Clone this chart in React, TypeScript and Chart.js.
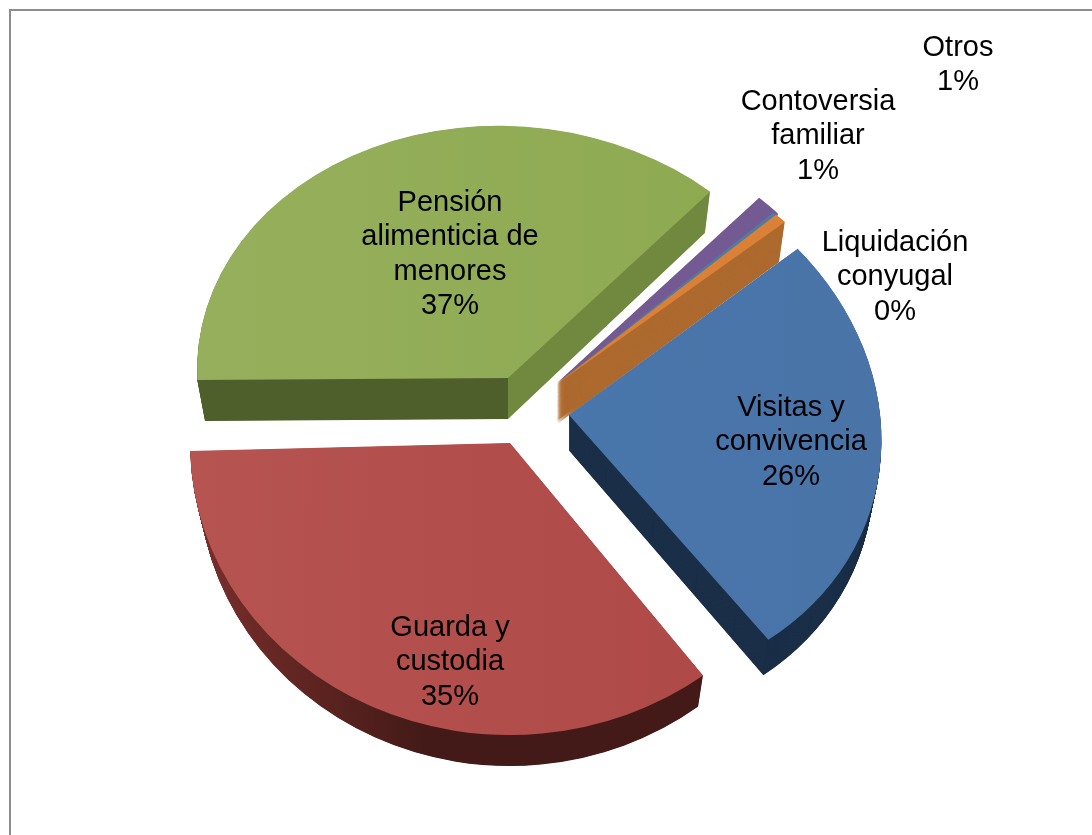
import React, { useEffect, useRef } from "react";
import { Chart, registerables } from "chart.js";

Chart.register(...registerables);

const categories = ["Visitas y convivencia", "Guarda y custodia", "Pensión alimenticia de menores", "Contoversia familiar", "Liquidación conyugal", "Otros"];
const values = [26, 35, 37, 1, 0.3, 1];
const topColors = ["#4a76ab", "#b04d4b", "#8fac55", "#745a93", "#4a7ea8", "#da8137"];
const labelLines = [["Visitas y", "convivencia"], ["Guarda y", "custodia"], ["Pensión", "alimenticia de", "menores"], ["Contoversia", "familiar"], ["Liquidación", "conyugal"], ["Otros"]];

// layout of the projected (tilted, exploded) pie, per slice
const labelCentres = [[791, 408], [450, 628], [450, 203], [818, 102], [895, 243], [958, 48]];
const sliceOrigins = [[569, 415], [510, 443], [508, 378], [557, 383], [557, 384], [557, 384]];
const sliceMatrices = [
  [312.4, 8, 18.2, 271.6],
  [320, -6, 5, 292],
  [311, -1.6, 9.3, 252],
  [365, 44, 70, 302],
  [260, -50, -43, 196],
  [260, -50, -43, 196],
];
const sliceDepths = [35.5, 31, 41, 38, 38, 40];
const drawOrder = [2, 3, 4, 5, 0, 1];
const lineHeight = 34.3;

function wallFill(ctx: CanvasRenderingContext2D, i: number, arc: any): any {
  const R = arc.outerRadius;
  if (i === 0) return "#1a2e47";
  if (i === 1) {
    const g = ctx.createLinearGradient(arc.x - R, 0, arc.x - R * 0.25, 0);
    g.addColorStop(0, "#7a2f2c");
    g.addColorStop(1, "#431a17");
    return g;
  }
  if (i === 2) {
    const g = ctx.createLinearGradient(arc.x - R, 0, arc.x + R, 0);
    g.addColorStop(0, "#4f5f2c");
    g.addColorStop(0.5, "#4f5f2c");
    g.addColorStop(0.5, "#70893f");
    g.addColorStop(1, "#70893f");
    return g;
  }
  return "#ad6a2f";
}

function topFill(ctx: CanvasRenderingContext2D, i: number, arc: any): any {
  const R = arc.outerRadius;
  const pairs: Record<number, string[]> = {
    0: ["#4777ae", "#4a74a8"],
    1: ["#b65452", "#ac4745"],
    2: ["#96af5c", "#8ca94f"],
  };
  if (!pairs[i]) return topColors[i];
  const g = ctx.createLinearGradient(arc.x - R, 0, arc.x + R, 0);
  g.addColorStop(0, pairs[i][0]);
  g.addColorStop(1, pairs[i][1]);
  return g;
}

const projectedPie = {
  id: "projectedPie",
  beforeDatasetDraw(chart: any) {
    const ctx: CanvasRenderingContext2D = chart.ctx;
    const arcs = chart.getDatasetMeta(0).data;

    ctx.save();
    ctx.strokeStyle = "#8c8c8c";
    ctx.lineWidth = 2;
    ctx.strokeRect(10, 10, 2000, 2000);
    ctx.restore();

    const paint = (i: number, level: number, depth: number, fill: any) => {
      const arc = arcs[i];
      const R = arc.outerRadius;
      const [a, c, b, d] = sliceMatrices[i];
      const [ox, oy] = sliceOrigins[i];
      const sx = 1 - 0.025 * level;
      const saved = arc.options;
      arc.options = Object.assign({}, saved, { backgroundColor: fill, borderWidth: 0 });
      ctx.save();
      ctx.transform((a * sx) / R, b / R, (c * sx) / R, d / R, ox, oy + depth * level);
      ctx.translate(-arc.x, -arc.y);
      arc.draw(ctx);
      ctx.restore();
      arc.options = saved;
    };

    for (const i of drawOrder) {
      const depth = sliceDepths[i];
      const wall = wallFill(ctx, i, arcs[i]);
      const steps = Math.ceil(depth) * 2;
      for (let s = steps; s >= 1; s--) paint(i, s / steps, depth, wall);
      paint(i, 0, depth, topFill(ctx, i, arcs[i]));
    }

    const total = values.reduce((p, v) => p + v, 0);
    ctx.save();
    ctx.fillStyle = "#000";
    ctx.font = '29px "Liberation Sans", Arial, sans-serif';
    ctx.textAlign = "center";
    ctx.textBaseline = "middle";
    labelLines.forEach((lines, i) => {
      const [cx, cy] = labelCentres[i];
      const all = [...lines, `${Math.round((values[i] / total) * 100)}%`];
      all.forEach((t, k) => ctx.fillText(t, cx, cy + k * lineHeight));
    });
    ctx.restore();
    return false;
  },
};

export default function App() {
  const ref = useRef<HTMLCanvasElement | null>(null);
  useEffect(() => {
    const chart = new Chart(ref.current as HTMLCanvasElement, {
      type: "pie",
      data: {
        labels: categories,
        datasets: [{ data: values, backgroundColor: topColors, borderWidth: 0 }],
      },
      options: {
        responsive: false,
        devicePixelRatio: 1,
        animation: false,
        rotation: 48.5,
        plugins: { legend: { display: false }, tooltip: { enabled: false } },
      },
      plugins: [projectedPie],
    } as any);
    return () => chart.destroy();
  }, []);
  return (
    <canvas
      ref={ref}
      width={1092}
      height={835}
      style={{ position: "fixed", left: 0, top: 0, width: 1092, height: 835, background: "#fff" }}
    />
  );
}
